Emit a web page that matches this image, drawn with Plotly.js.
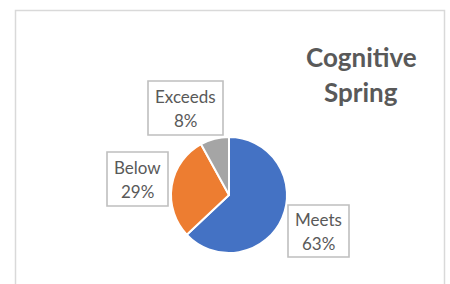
<!DOCTYPE html>
<html>
<head>
<meta charset="utf-8">
<script src="https://cdn.plot.ly/plotly-3.0.1.min.js"></script>
<style>html,body{margin:0;padding:0;background:#fff;}#chart{width:450px;height:284px;}</style>
</head>
<body>
<div id="chart"></div>
<script>
var categories = ["Meets", "Below", "Exceeds"];
var values = [63, 29, 8];
var colors = ["#4472C4", "#ED7D31", "#A5A5A5"];
var titleLines = ["Cognitive", "Spring"];

// label box placement in pixels (left, top, right, bottom)
var boxPos = {
  "Meets":   [288, 205, 349, 257],
  "Below":   [107, 152, 168, 206],
  "Exceeds": [148, 81, 223, 135]
};
var W = 450, H = 284;
function px(x){ return x / W; }
function py(y){ return 1 - y / H; }

var total = values.reduce(function(a, b){ return a + b; }, 0);
var lblFont = {family: "Lato, 'Open Sans', sans-serif", size: 17, color: "#595959"};
var annotations = [];
var shapes = [{
  type: "rect", xref: "paper", yref: "paper",
  x0: px(15.5), x1: px(444.5), y0: -0.05, y1: py(10.5),
  line: {color: "#d9d9d9", width: 1.5}, fillcolor: "rgba(0,0,0,0)", layer: "below"
}];
categories.forEach(function(c, i){
  var b = boxPos[c];
  shapes.push({
    type: "rect", xref: "paper", yref: "paper",
    x0: px(b[0]), x1: px(b[2]), y0: py(b[3]), y1: py(b[1]),
    line: {color: "#bfbfbf", width: 1.6}, fillcolor: "#ffffff", layer: "above"
  });
  var cxp = (b[0] + b[2]) / 2, cyp = (b[1] + b[3]) / 2;
  var lines = [c, Math.round(values[i] / total * 100) + "%"];
  lines.forEach(function(t, k){
    annotations.push({
      xref: "paper", yref: "paper",
      x: px(cxp), y: py(cyp + (k === 0 ? -12 : 12)),
      xanchor: "center", yanchor: "middle",
      text: t, showarrow: false, font: lblFont
    });
  });
});
titleLines.forEach(function(t, k){
  annotations.push({
    xref: "paper", yref: "paper",
    x: px(361), y: py(k === 0 ? 57 : 92),
    xanchor: "center", yanchor: "middle",
    text: "<b>" + t + "</b>",
    showarrow: false,
    font: {family: "Lato, 'Open Sans', sans-serif", size: 26, color: "#595959"}
  });
});

var cx = 229, cy = 195, r = 58;
var data = [{
  type: "pie",
  labels: categories,
  values: values,
  sort: false,
  direction: "clockwise",
  rotation: 0,
  textinfo: "none",
  hoverinfo: "none",
  marker: {colors: colors, line: {color: "#ffffff", width: 2}},
  domain: {x: [px(cx - r), px(cx + r)], y: [py(cy + r), py(cy - r)]},
  showlegend: false
}];

var layout = {
  width: W, height: H,
  margin: {l: 0, r: 0, t: 0, b: 0},
  paper_bgcolor: "#ffffff",
  showlegend: false,
  annotations: annotations,
  shapes: shapes
};

Plotly.newPlot("chart", data, layout, {staticPlot: true, displayModeBar: false});
</script>
</body>
</html>
